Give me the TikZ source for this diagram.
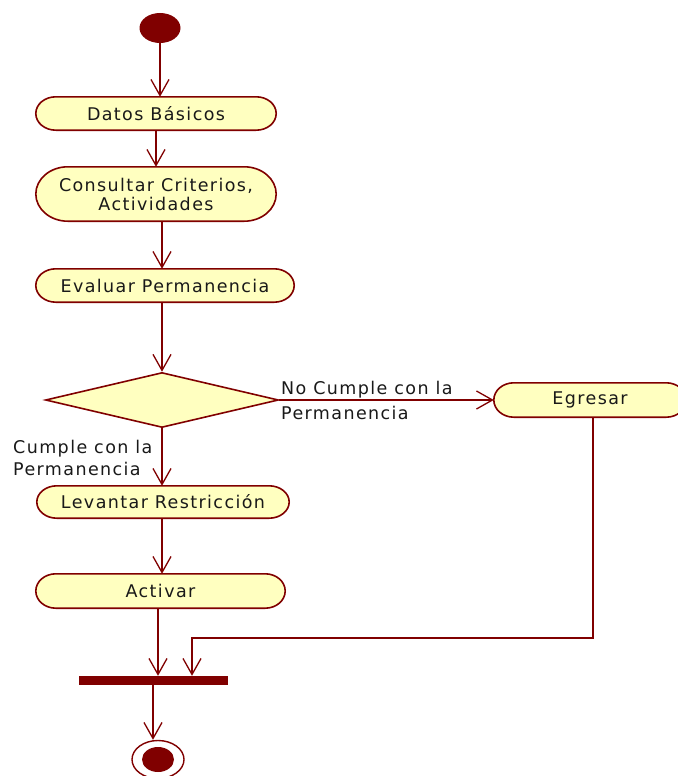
\documentclass[tikz,border=0pt]{standalone}
\usepackage{fontspec}
\setmainfont[LetterSpace=8]{DejaVu Sans}
\usetikzlibrary{arrows.meta,shapes.geometric,calc,backgrounds}
\definecolor{umlred}{RGB}{128,0,0}
\definecolor{umlfill}{RGB}{255,255,192}
% outline of an action state with elliptical ends: #1 node name, #2 end depth
\newcommand\actionoutline[2]{%
  \path[draw=umlred, fill=umlfill, line width=1.6pt]
    let \p1=(#1.north), \p2=(#1.south), \n1={abs(\y1-\y2)/2} in
    ([xshift=#2]#1.north west) -- ([xshift=-#2]#1.north east)
    arc[start angle=90, end angle=-90, x radius=#2, y radius=\n1]
    -- ([xshift=#2]#1.south west)
    arc[start angle=270, end angle=90, x radius=#2, y radius=\n1] -- cycle;}
\begin{document}
\begin{tikzpicture}[x=1pt,y=-1pt,
  font=\fontsize{17.5}{19}\selectfont,
  activity/.style={rectangle, inner sep=0pt, minimum height=33pt, align=center, text=black!90},
  flow/.style={draw=umlred, line width=1.3pt, -{Straight Barb[length=16pt,width=18pt]}},
  solid dot/.style={ellipse, fill=umlred, inner sep=0pt},
  lbl/.style={inner sep=0pt, align=left, anchor=west, text=black!90}]
\useasboundingbox (0,0) rectangle (677,776);

% start and activities
\node[solid dot, minimum width=41pt, minimum height=30pt] (start) at (160,28) {};
\node[activity, minimum width=240pt] (datos) at (156,113.5) {Datos Básicos};
\node[activity, minimum width=240pt, minimum height=54pt] (consultar) at (156,194) {Consultar Criterios,\\Actividades};
\node[activity, minimum width=258pt] (evaluar) at (165,285.5) {Evaluar Permanencia};
\node[diamond, draw=umlred, fill=umlfill, line width=1.6pt, inner sep=0pt,
  minimum width=233pt, minimum height=55pt] (dec) at (162,400) {};
\node[activity, minimum width=192pt, minimum height=34pt] (egresar) at (590,400) {Egresar};
\node[activity, minimum width=252pt, minimum height=32pt] (levantar) at (163,502) {Levantar Restricción};
\node[activity, minimum width=249pt, minimum height=34pt] (activar) at (160.5,591) {Activar};

\begin{scope}[on background layer]
  \actionoutline{datos}{20pt}
  \actionoutline{consultar}{32pt}
  \actionoutline{evaluar}{20pt}
  \actionoutline{egresar}{20pt}
  \actionoutline{levantar}{20pt}
  \actionoutline{activar}{20pt}
\end{scope}

% synchronisation bar and final state
\node[fill=umlred, inner sep=0pt, minimum width=149pt, minimum height=9pt] (bar) at (153.5,680.5) {};
\node[ellipse, draw=umlred, fill=white, line width=1.4pt, inner sep=0pt,
  minimum width=52pt, minimum height=38pt] (final) at (158,759.5) {};
\node[solid dot, minimum width=32pt, minimum height=25pt] (finaldot) at (final.center) {};

% guard labels
\node[lbl, font=\fontsize{17.5}{25}\selectfont] (nolbl) at (281,400) {No Cumple con la\\Permanencia};
\node[lbl, font=\fontsize{17.5}{22}\selectfont] (silbl) at (13,458) {Cumple con la\\Permanencia};

\coordinate (turn) at (192,638);

% transitions
\draw[flow] (start.south) -- (start.south |- datos.north);
\draw[flow] (datos.south) -- (datos.south |- consultar.north);
\draw[flow] ([xshift=6pt]consultar.south) -- ([xshift=-3pt]evaluar.north);
\draw[flow] (dec.north |- evaluar.south) -- (dec.north);
\draw[flow] (dec.east) -- (egresar.west);
\draw[flow] (dec.south) -- (dec.south |- levantar.north);
\draw[flow] ([xshift=-1pt]levantar.south) -- ([xshift=-1pt]levantar.south |- activar.north);
\draw[flow] ([xshift=-2.5pt]activar.south) -- ([xshift=-2.5pt]activar.south |- bar.north);
\draw[flow] ([xshift=3pt]egresar.south) |- (turn) -- (turn |- bar.north);
\draw[flow] ([xshift=-0.5pt]bar.south) -- ([xshift=-0.5pt]bar.south |- final.north);
\end{tikzpicture}
\end{document}
